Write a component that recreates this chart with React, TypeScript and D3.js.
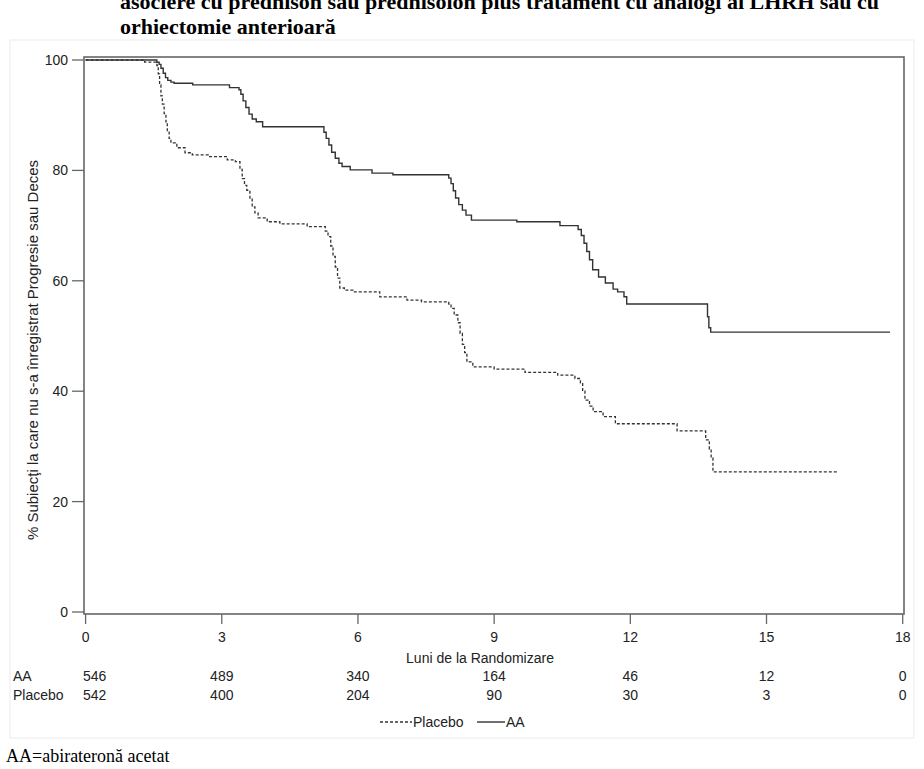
import React from 'react';
import * as d3 from 'd3';

const titleLines = [
  'asociere cu prednison sau prednisolon plus tratament cu analogi ai LHRH sau cu',
  'orhiectomie anterioară',
];
const footnote = 'AA=abirateronă acetat';
const yLabel = '% Subiecţi la care nu s-a înregistrat  Progresie sau Deces';
const xLabel = 'Luni de la Randomizare';

const xTicks = [0, 3, 6, 9, 12, 15, 18];
const yTicks = [0, 20, 40, 60, 80, 100];

const riskGroups = ['AA', 'Placebo'];
const riskAA = [546, 489, 340, 164, 46, 12, 0];
const riskPlacebo = [542, 400, 204, 90, 30, 3, 0];

// Kaplan-Meier steps (months, % event-free)
const aaTimes = [0, 1.57, 1.62, 1.66, 1.71, 1.76, 1.81, 1.88, 1.95, 2.36, 3.17, 3.38, 3.42, 3.47, 3.53, 3.6, 3.67, 3.76, 3.9, 5.25, 5.3, 5.36, 5.42, 5.5, 5.58, 5.65, 5.83, 6.31, 6.77, 8.0, 8.05, 8.1, 8.15, 8.22, 8.3, 8.38, 8.5, 9.5, 10.45, 10.85, 10.92, 10.98, 11.04, 11.1, 11.17, 11.3, 11.45, 11.62, 11.72, 11.86, 11.92, 13.7, 13.73, 13.77, 17.72];
const aaSurv = [100, 99.6, 99.2, 98.5, 97.6, 96.8, 96.3, 96.0, 95.8, 95.5, 95.0, 94.6, 93.8, 92.6, 91.4, 90.2, 89.3, 88.8, 87.9, 86.9, 85.8, 84.6, 83.3, 82.2, 81.3, 80.7, 80.1, 79.5, 79.2, 78.6, 77.6, 76.3, 75.0, 73.8, 72.8, 71.9, 71.0, 70.7, 70.0, 69.3, 68.2, 66.8, 65.3, 63.8, 62.0, 60.7, 59.6, 58.5, 58.0, 57.1, 55.8, 53.5, 51.5, 50.7, 50.7];

const placeboTimes = [0, 1.3, 1.57, 1.6, 1.63, 1.66, 1.69, 1.73, 1.77, 1.8, 1.84, 1.88, 2.01, 2.19, 2.35, 2.7, 3.12, 3.3, 3.4, 3.45, 3.5, 3.55, 3.62, 3.67, 3.73, 3.8, 4.0, 4.28, 4.88, 5.28, 5.34, 5.4, 5.45, 5.5, 5.55, 5.6, 5.7, 5.9, 6.48, 7.08, 7.4, 8.0, 8.05, 8.12, 8.2, 8.25, 8.3, 8.35, 8.4, 8.53, 9.0, 9.68, 10.4, 10.78, 10.9, 10.95, 11.0, 11.1, 11.18, 11.4, 11.67, 13.03, 13.66, 13.74, 13.78, 13.82, 16.57];
const placeboSurv = [100, 99.6, 99.0, 97.5, 95.5, 93.5, 92.0, 90.3, 88.8, 87.2, 85.8, 85.0, 84.1, 83.2, 82.8, 82.5, 81.9, 81.6, 80.2, 78.5, 77.3, 76.4, 74.8, 73.4, 72.3, 71.4, 70.7, 70.3, 69.8, 69.0, 68.0, 66.3, 64.4, 62.5, 60.5, 58.7, 58.3, 58.0, 57.1, 56.5, 56.2, 55.8, 55.0, 53.8, 52.4, 50.5, 48.5, 47.0, 45.3, 44.4, 44.0, 43.4, 42.9, 42.3, 41.5, 40.0, 38.4, 37.3, 36.3, 35.4, 34.1, 32.8, 31.2, 29.5, 27.9, 25.4, 25.4];

const W = 924;
const H = 769;
const sans = '"Liberation Sans", Arial, sans-serif';
const serif = '"Liberation Serif", "Times New Roman", serif';

export default function App() {
  const x = d3.scaleLinear().domain([0, 18]).range([85.6, 902.7]);
  const y = d3.scaleLinear().domain([0, 100]).range([612, 60]);
  const frame = { l: 84, r: 904, t: 57, b: 614 };

  const line = d3
    .line<[number, number]>()
    .x((d) => x(d[0]))
    .y((d) => y(d[1]))
    .curve(d3.curveStepAfter);

  const aaPts = aaTimes.map((t, i) => [t, aaSurv[i]] as [number, number]);
  const plPts = placeboTimes.map((t, i) => [t, placeboSurv[i]] as [number, number]);

  const frameColor = '#666';
  const textColor = '#222';
  const riskRows = [riskAA, riskPlacebo];

  return (
    <svg
      width={W}
      height={H}
      style={{ position: 'absolute', left: 0, top: 0, background: '#fff' }}
    >
      {/* title (partly cut at top, as in the source page) */}
      <text x={120} y={9} fontFamily={serif} fontWeight="bold" fontSize={22} fill="#000">
        {titleLines[0]}
      </text>
      <text x={120} y={34} fontFamily={serif} fontWeight="bold" fontSize={22} fill="#000">
        {titleLines[1]}
      </text>

      {/* outer light box */}
      <rect x={10} y={40} width={904} height={698} fill="none" stroke="#ececec" strokeWidth={1} />

      {/* plot frame */}
      <rect
        x={frame.l}
        y={frame.t}
        width={frame.r - frame.l}
        height={frame.b - frame.t}
        fill="none"
        stroke={frameColor}
        strokeWidth={1.6}
      />

      {/* y axis ticks */}
      {yTicks.map((v) => (
        <g key={'y' + v}>
          <line x1={72} x2={frame.l} y1={y(v)} y2={y(v)} stroke={frameColor} strokeWidth={1.3} />
          <text
            x={68}
            y={y(v) + 5}
            textAnchor="end"
            fontFamily={sans}
            fontSize={14}
            fill={textColor}
          >
            {v}
          </text>
        </g>
      ))}

      {/* x axis ticks */}
      {xTicks.map((v) => (
        <g key={'x' + v}>
          <line x1={x(v)} x2={x(v)} y1={frame.b} y2={624} stroke={frameColor} strokeWidth={1.3} />
          <text x={x(v)} y={642} textAnchor="middle" fontFamily={sans} fontSize={14} fill={textColor}>
            {v}
          </text>
        </g>
      ))}

      {/* axis labels */}
      <text x={480} y={663} textAnchor="middle" fontFamily={sans} fontSize={14} fill={textColor}>
        {xLabel}
      </text>
      <text
        transform={`translate(38, ${350}) rotate(-90)`}
        textAnchor="middle"
        fontFamily={sans}
        fontSize={15}
        fill={textColor}
      >
        {yLabel}
      </text>

      {/* curves */}
      <path d={line(plPts) || ''} fill="none" stroke="#333" strokeWidth={1.3} strokeDasharray="3,2" />
      <path d={line(aaPts) || ''} fill="none" stroke="#333" strokeWidth={1.4} />

      {/* numbers at risk */}
      {riskGroups.map((g, gi) => (
        <g key={g}>
          <text x={13} y={681 + gi * 19} fontFamily={sans} fontSize={14} fill={textColor}>
            {g}
          </text>
          {riskRows[gi].map((n, i) => (
            <text
              key={i}
              x={i === 0 ? x(xTicks[i]) - 2.6 : x(xTicks[i])}
              y={681 + gi * 19}
              textAnchor={i === 0 ? 'start' : 'middle'}
              fontFamily={sans}
              fontSize={14}
              fill={textColor}
            >
              {n}
            </text>
          ))}
        </g>
      ))}

      {/* legend */}
      <line x1={380} x2={412} y1={722} y2={722} stroke="#333" strokeWidth={1.3} strokeDasharray="3,2" />
      <text x={413} y={727} fontFamily={sans} fontSize={14} fill={textColor}>
        Placebo
      </text>
      <line x1={477} x2={505} y1={722} y2={722} stroke="#333" strokeWidth={1.4} />
      <text x={506} y={727} fontFamily={sans} fontSize={14} fill={textColor}>
        AA
      </text>

      {/* footnote */}
      <text x={6} y={762} fontFamily={serif} fontSize={18} fill="#000">
        {footnote}
      </text>
    </svg>
  );
}
